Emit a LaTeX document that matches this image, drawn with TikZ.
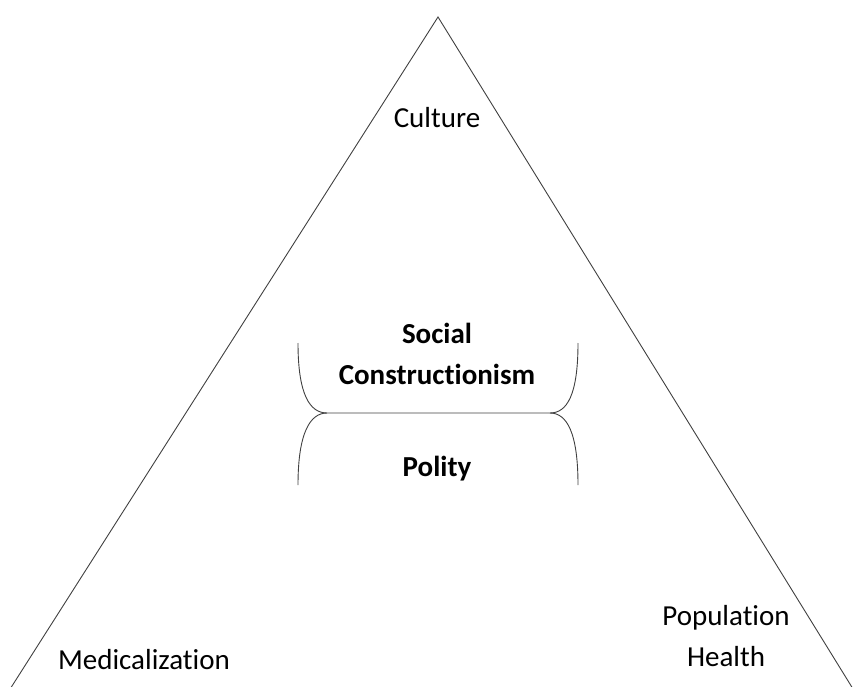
\documentclass[tikz,border=0pt]{standalone}
\usepackage{fontspec}
\setmainfont[Ligatures=NoCommon]{Carlito}
\usepackage{tikz}

\tikzset{
	lbl/.style={font=\fontsize{29}{41}\selectfont, align=center, inner sep=0pt},
	edge/.style={color=black!75, line width=0.9pt},
}

\begin{document}
\begin{tikzpicture}[x=1pt, y=-1pt]
		\useasboundingbox (0, 0) rectangle (853, 687);
		
		\coordinate (apex) at (438, 17);
		\coordinate (bl) at (5, 697);
		\coordinate (br) at (858, 697);
		
		\node[lbl] (culture) at (437, 118) {Culture};
		\node[lbl, font=\fontsize{29}{41}\selectfont\bfseries] (social) at (437, 354) {Social\\Constructionism};
		\node[lbl, font=\fontsize{29}{41}\selectfont\bfseries] (polity) at (437, 469) {Polity};
		\node[lbl] (medical) at (144, 660) {Medicalization};
		\node[lbl] (health) at (726, 636) {Population\\Health};
		
		\draw[edge] (bl) -- (apex) -- (br);
		
		\draw[edge] (298, 343) .. controls (298, 395) and (310, 413) .. (327, 413) -- (550, 413) .. controls (567, 413) and (578, 395) .. (578, 343);
		\draw[edge] (298, 485) .. controls (298, 433) and (310, 413) .. (327, 413);
		\draw[edge] (578, 485) .. controls (578, 433) and (567, 413) .. (550, 413);
\end{tikzpicture}
\end{document}
